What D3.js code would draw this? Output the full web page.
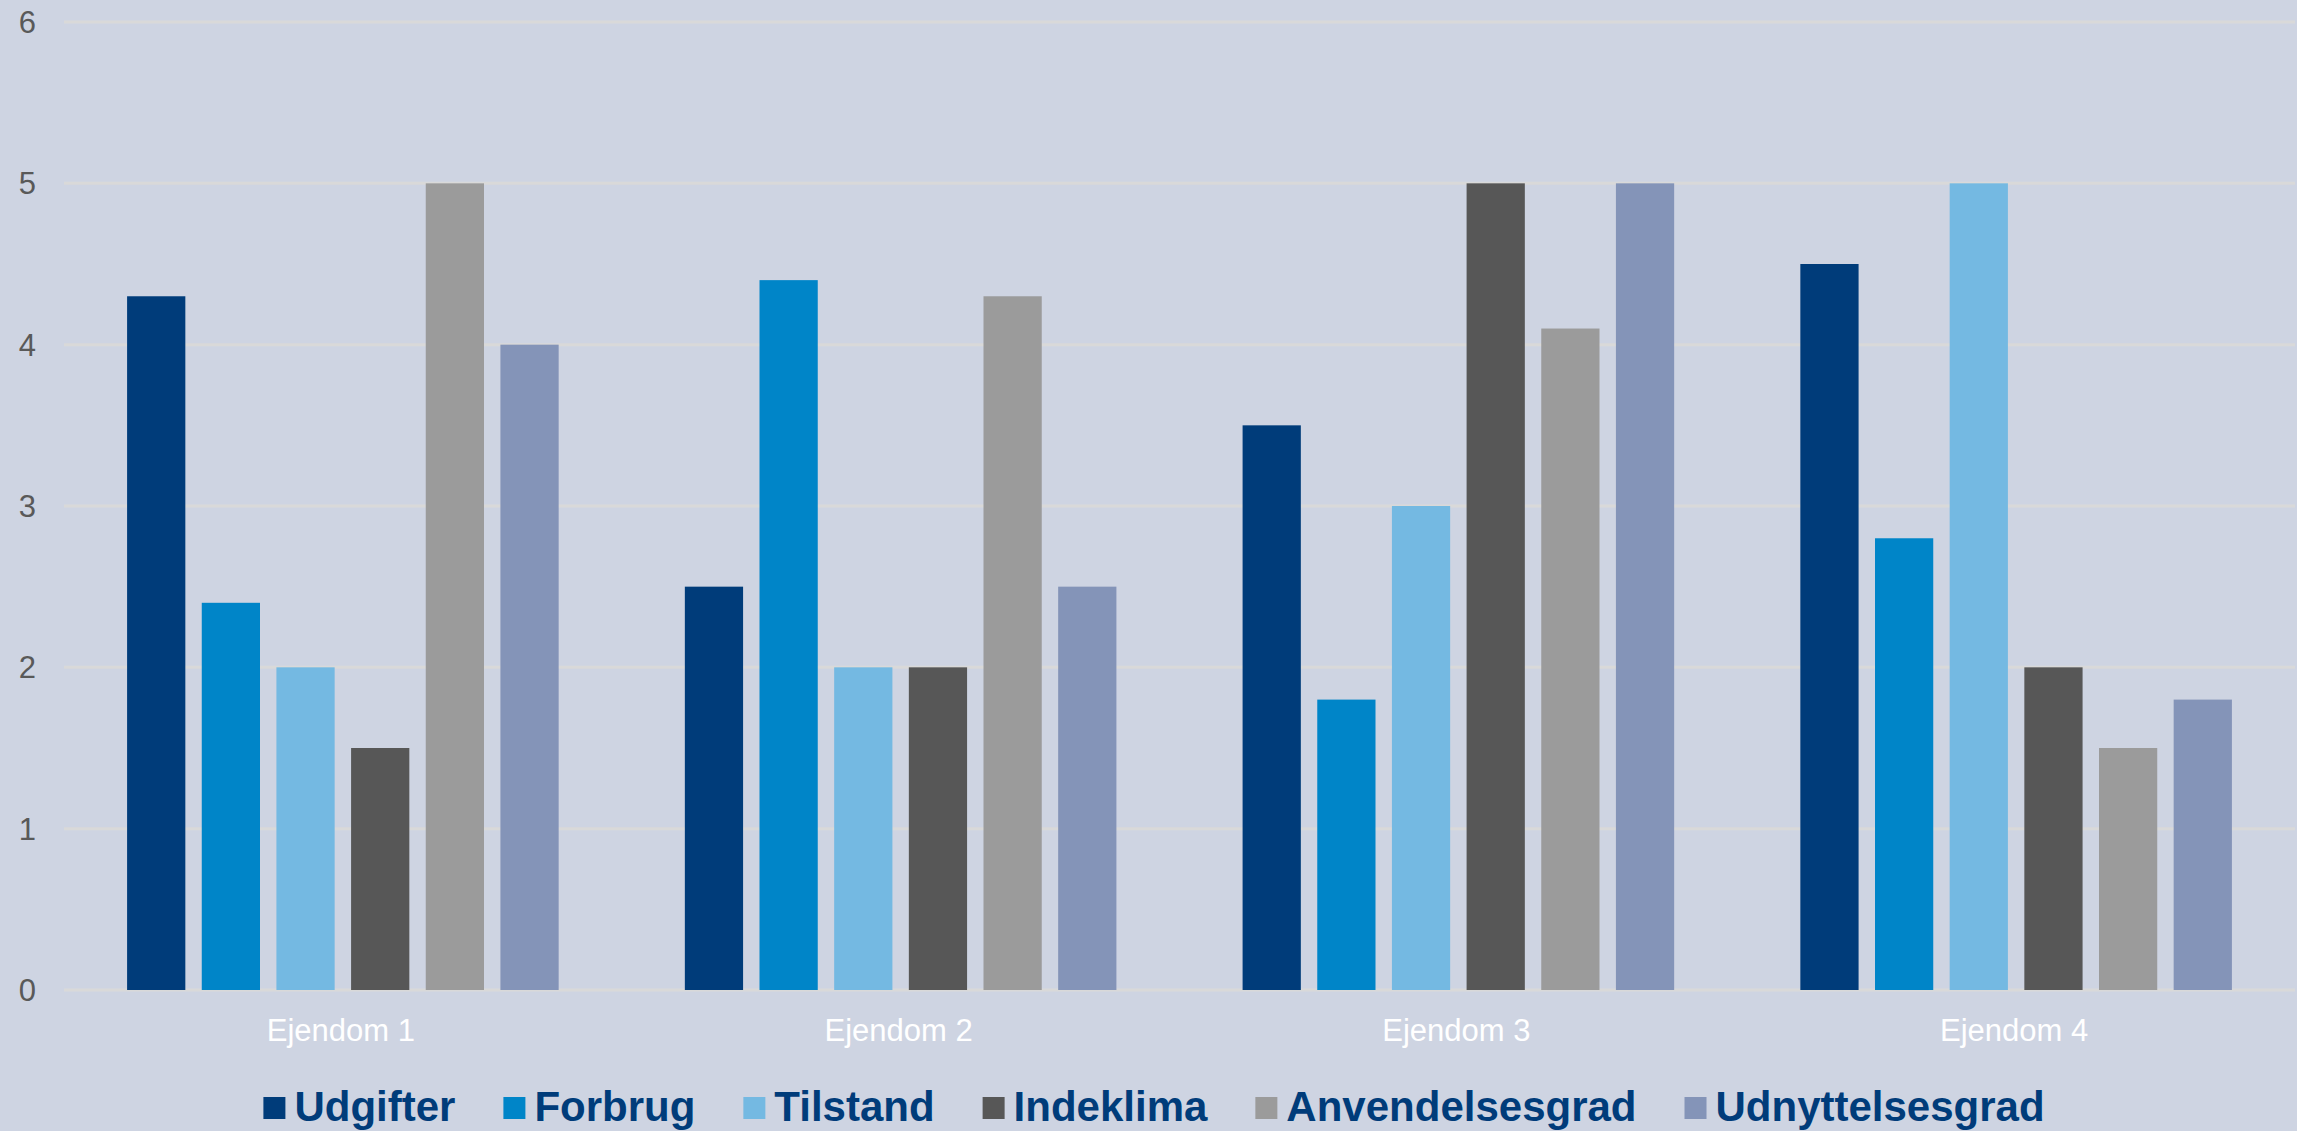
<!DOCTYPE html>
<html>
<head>
<meta charset="utf-8">
<script src="https://cdn.jsdelivr.net/npm/d3@7"></script>
<style>
  html, body { margin: 0; padding: 0; background: #ced4e2; }
  svg { display: block; font-family: "Liberation Sans", Arial, sans-serif; }
</style>
</head>
<body>
<div id="chart"></div>
<script>
var categories = ['Ejendom 1', 'Ejendom 2', 'Ejendom 3', 'Ejendom 4'];
var series = ['Udgifter', 'Forbrug', 'Tilstand', 'Indeklima', 'Anvendelsesgrad', 'Udnyttelsesgrad'];
var colors = ['#003c7a', '#0085c8', '#74b9e2', '#575757', '#9b9b9b', '#8494b8'];
// one row per series, one value per category
var udgifter = [4.3, 2.5, 3.5, 4.5];
var forbrug = [2.4, 4.4, 1.8, 2.8];
var tilstand = [2.0, 2.0, 3.0, 5.0];
var indeklima = [1.5, 2.0, 5.0, 2.0];
var anvendelsesgrad = [5.0, 4.3, 4.1, 1.5];
var udnyttelsesgrad = [4.0, 2.5, 5.0, 1.8];
var yTicks = [0, 1, 2, 3, 4, 5, 6];

var values = [udgifter, forbrug, tilstand, indeklima, anvendelsesgrad, udnyttelsesgrad];

var W = 2297, H = 1131;
// plot box (note: "top" is reserved on window, so use plot* names)
var plotLeft = 64, plotRight = 2295, plotTop = 22, plotBottom = 990;

var svg = d3.select('#chart').append('svg')
  .attr('width', W)
  .attr('height', H);

svg.append('rect').attr('width', W).attr('height', H).attr('fill', '#ced4e2');

var y = d3.scaleLinear().domain([0, 6]).range([plotBottom, plotTop]);
var x0 = d3.scaleBand().domain(categories).range([plotLeft, plotRight]).padding(0);
var x1 = d3.scaleBand().domain(series).range([0, x0.bandwidth()])
  .paddingInner(0.22).paddingOuter(0.845);

// gridlines
svg.append('g').selectAll('line').data(yTicks)
  .enter().append('line')
  .attr('x1', plotLeft).attr('x2', plotRight)
  .attr('y1', function (d) { return y(d); })
  .attr('y2', function (d) { return y(d); })
  .attr('stroke', '#d9d9d9')
  .attr('stroke-width', 3);

// y tick labels
svg.append('g').selectAll('text').data(yTicks)
  .enter().append('text')
  .attr('x', 36)
  .attr('y', function (d) { return y(d); })
  .attr('dy', '0.36em')
  .attr('text-anchor', 'end')
  .attr('font-size', 31)
  .attr('fill', '#595959')
  .text(function (d) { return d; });

// bars
var groups = svg.append('g').selectAll('g').data(categories)
  .enter().append('g')
  .attr('transform', function (d) { return 'translate(' + x0(d) + ',0)'; });

groups.selectAll('rect')
  .data(function (c, ci) {
    return series.map(function (s, si) { return { s: s, v: values[si][ci], c: colors[si] }; });
  })
  .enter().append('rect')
  .attr('x', function (d) { return x1(d.s); })
  .attr('width', x1.bandwidth())
  .attr('y', function (d) { return y(d.v); })
  .attr('height', function (d) { return y(0) - y(d.v); })
  .attr('fill', function (d) { return d.c; });

// category labels
svg.append('g').selectAll('text').data(categories)
  .enter().append('text')
  .attr('x', function (d) { return x0(d) + x0.bandwidth() / 2 - 2; })
  .attr('y', 1041)
  .attr('text-anchor', 'middle')
  .attr('font-size', 31)
  .attr('fill', '#ffffff')
  .text(function (d) { return d; });

// legend
var legend = svg.append('g');
var cursor = 0;
series.forEach(function (s, i) {
  var item = legend.append('g').attr('transform', 'translate(' + cursor + ',0)');
  item.append('rect')
    .attr('x', 0).attr('y', 1097)
    .attr('width', 22).attr('height', 22)
    .attr('fill', colors[i]);
  var t = item.append('text')
    .attr('x', 31).attr('y', 1121)
    .attr('font-size', 42)
    .attr('font-weight', 'bold')
    .attr('fill', '#003c7a')
    .text(s);
  cursor += 31 + t.node().getComputedTextLength() + 48;
});
var legendW = cursor - 48;
legend.attr('transform', 'translate(' + (1154 - legendW / 2) + ',0)');
</script>
</body>
</html>
